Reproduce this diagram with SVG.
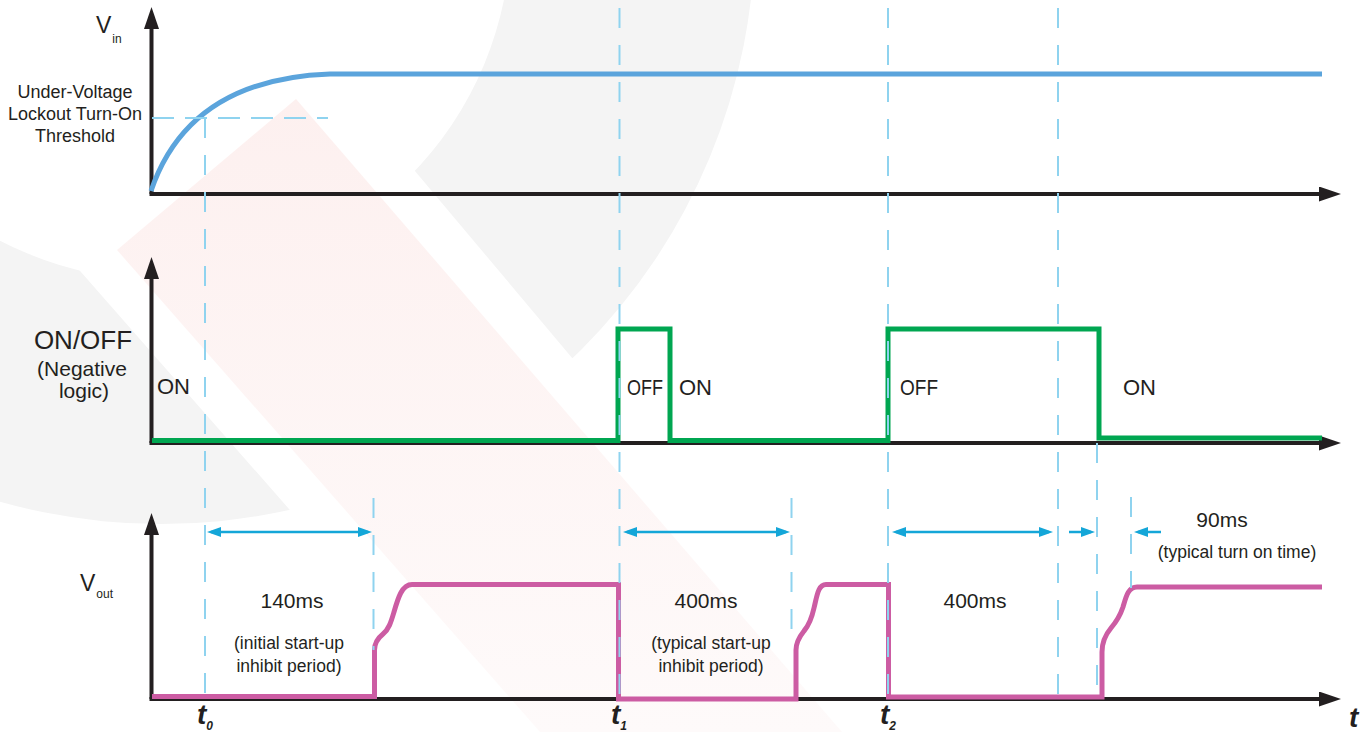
<svg xmlns="http://www.w3.org/2000/svg" width="1372" height="732" viewBox="0 0 1372 732">
<defs>
<style>
text { font-family: "Liberation Sans", Arial, sans-serif; fill: #231f20; }
.axis { fill: none; stroke: #231f20; stroke-width: 4; marker-end: url(#axhead); }
.guide { fill: none; stroke: #8fd3ef; stroke-width: 2; stroke-dasharray: 20 17; }
.hguide { fill: none; stroke: #8fd3ef; stroke-width: 2; stroke-dasharray: 22 11; }
.dim { fill: none; stroke: #14a6d8; stroke-width: 2.5; }
.dim2 { marker-start: url(#dimhead); marker-end: url(#dimhead); }
.dim1 { marker-end: url(#dimhead); }
.sig { fill: none; stroke-width: 5; stroke-linejoin: miter; }
.vin { stroke: #5ba4dc; }
.onoff { stroke: #00a651; }
.vout { stroke: #cc5ca3; }
.side { font-size: 18px; text-anchor: middle; }
.big { font-size: 26px; text-anchor: middle; }
.mid { font-size: 21px; text-anchor: middle; }
.state { font-size: 22px; }
.ms { font-size: 21px; text-anchor: middle; }
.note { font-size: 17.5px; text-anchor: middle; }
.tl { font-size: 28px; font-weight: bold; font-style: italic; }
.sub { font-size: 12px; }
</style>
<marker id="axhead" viewBox="0 0 22 15" refX="10" refY="7.5" markerWidth="22" markerHeight="15" markerUnits="userSpaceOnUse" orient="auto">
<path d="M0,0 L22,7.5 L0,15 Z" fill="#231f20"/>
</marker>
<marker id="dimhead" viewBox="0 0 14 10" refX="10" refY="5" markerWidth="14" markerHeight="10" markerUnits="userSpaceOnUse" orient="auto-start-reverse">
<path d="M0,0 L14,5 L0,10 Z" fill="#14a6d8"/>
</marker>
<linearGradient id="pinkfade" x1="0" y1="99" x2="0" y2="732" gradientUnits="userSpaceOnUse">
<stop offset="0" stop-color="#fdf0ef"/>
<stop offset="1" stop-color="#fefafa"/>
</linearGradient>
<clipPath id="ringcut">
<path d="M262.8,-10 L1400,-10 L1400,800 L943.7,800 Z M-300,-10 L-166.5,-10 L544.4,800 L-300,800 Z"/>
</clipPath>
</defs>

<rect width="1372" height="732" fill="#ffffff"/>

<g id="background">
<path clip-path="url(#ringcut)" fill="#f4f4f4" fill-rule="evenodd" d="M-433,-70 a594,594 0 1,0 1188,0 a594,594 0 1,0 -1188,0 Z M-189,-70 a350,350 0 1,0 700,0 a350,350 0 1,0 -700,0 Z"/>
<path fill="url(#pinkfade)" d="M296,99 L117,250 L540,732 L842,732 Z"/>
</g>

<g id="panel-vin">
<path class="axis" d="M151.5,194 V19"/>
<path class="axis" d="M149.5,194 H1329"/>
<path class="sig vin" d="M151,191 C170,135 215,78 330,74 H1322"/>
<text x="96" y="33" font-size="23">V<tspan class="sub" dx="1" dy="10">in</tspan></text>
<text class="side" x="75" y="98">Under-Voltage</text>
<text class="side" x="75" y="120">Lockout Turn-On</text>
<text class="side" x="75" y="142">Threshold</text>
</g>

<g id="panel-onoff">
<path class="axis" d="M151.5,443 V269"/>
<path class="axis" d="M149.5,443 H1329"/>
<path class="sig onoff" d="M152,440.5 H618 V329 H670 V440.5 H888 V329 H1099 V438 H1322"/>
<text class="big" x="83" y="349">ON/OFF</text>
<text class="mid" x="82" y="376">(Negative</text>
<text class="mid" x="84" y="398">logic)</text>
<text class="state" x="157" y="394">ON</text>
<text class="state" x="627" y="395" textLength="36" lengthAdjust="spacingAndGlyphs">OFF</text>
<text class="state" x="679" y="395">ON</text>
<text class="state" x="900" y="395" textLength="38" lengthAdjust="spacingAndGlyphs">OFF</text>
<text class="state" x="1123" y="395">ON</text>
</g>

<g id="panel-vout">
<path class="axis" d="M151.5,699 V525"/>
<path class="axis" d="M149.5,699 H1329"/>
<path class="sig vout" d="M152,696.5 H374.5 V650 C374.5,643 378,638 383,634 C389,629 391,622 394,612 C398,598 402,584.5 412,584.5 H618.5 V699 H796 V650 C796,642 800,636 804,631 C810,624 812,617 814,608 C817,596 818,584.5 826,584.5 H888.5 V697 H1102 V652 C1102,642 1106,634 1111,628 C1117,621 1120,616 1123,607 C1126,597 1128,587 1137,587 H1322"/>
<text x="80" y="591" font-size="23">V<tspan class="sub" dx="1" dy="7">out</tspan></text>
<text class="ms" x="292" y="608">140ms</text>
<text class="note" x="289" y="649">(initial start-up</text>
<text class="note" x="289" y="672">inhibit period)</text>
<text class="ms" x="706" y="608">400ms</text>
<text class="note" x="711" y="649">(typical start-up</text>
<text class="note" x="711" y="672">inhibit period)</text>
<text class="ms" x="975" y="608">400ms</text>
<text class="ms" x="1222" y="527">90ms</text>
<text class="note" x="1237" y="558">(typical turn on time)</text>
</g>

<g id="connectors">
<path class="hguide" d="M152,118 H328"/>
<path class="guide" d="M205,118 V705"/>
<path class="guide" d="M619.5,8 V702"/>
<path class="guide" d="M888,8 V702"/>
<path class="guide" d="M1058,8 V702"/>
<path class="guide" d="M1097,443 V697"/>
<path class="guide" d="M373.5,498 V650"/>
<path class="guide" d="M791.5,498 V640"/>
<path class="guide" d="M1131,497 V588"/>
<path class="dim dim2" d="M211,532 H368"/>
<path class="dim dim2" d="M627,532 H786"/>
<path class="dim dim2" d="M896,532 H1049"/>
<path class="dim dim1" d="M1069,532 H1091"/>
<path class="dim dim1" d="M1161,532 H1138"/>
</g>

<g id="time-labels">
<text class="tl" x="197" y="724">t<tspan class="sub" font-size="11" dy="6">0</tspan></text>
<text class="tl" x="611" y="724">t<tspan class="sub" font-size="11" dy="6">1</tspan></text>
<text class="tl" x="880" y="724">t<tspan class="sub" font-size="11" dy="6">2</tspan></text>
<text class="tl" x="1349" y="727" font-size="30">t</text>
</g>
</svg>
